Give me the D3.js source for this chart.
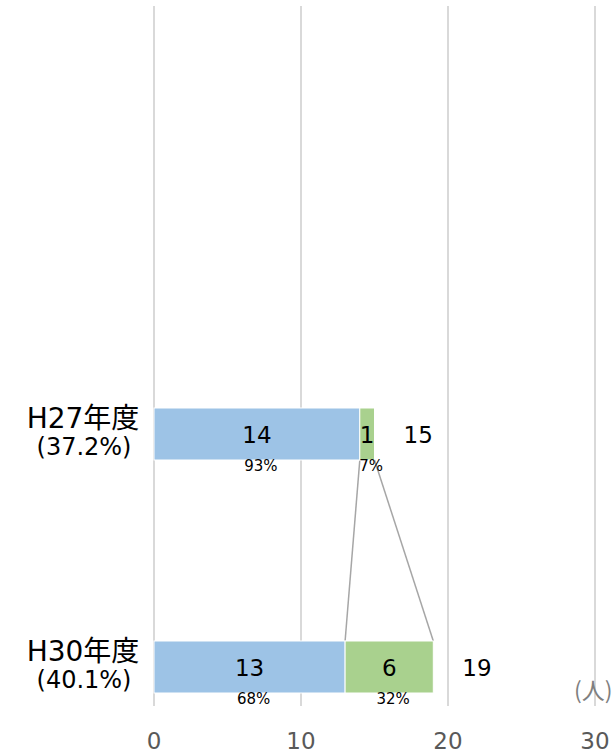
<!DOCTYPE html>
<html>
<head>
<meta charset="utf-8">
<script src="https://cdn.jsdelivr.net/npm/d3@7"></script>
<style>
body { margin: 0; background: #fff; }
</style>
</head>
<body>
<div id="chart"></div>
<script>
// Data
const categories = ['H27年度', 'H30年度'];
const subLabels = ['(37.2%)', '(40.1%)'];
const seriesA = [14, 13];
const seriesB = [1, 6];
const pctA = ['93%', '68%'];
const pctB = ['7%', '32%'];
const xTicks = [0, 10, 20, 30];

const W = 612, H = 753;
const svg = d3.select('#chart').append('svg')
    .attr('width', W).attr('height', H);

const x = d3.scaleLinear().domain([0, 30]).range([154, 595]);
const y = d3.scaleBand().domain(categories)
    .range([291.5, 809.5]).paddingInner(0.7768).paddingOuter(0.5);

const numFont = '"DejaVu Sans", Verdana, sans-serif';
const jpFont = '"DejaVu Sans", "Noto Sans CJK JP", sans-serif';

// Gridlines
svg.selectAll('.grid').data(xTicks).enter().append('line')
    .attr('x1', d => x(d)).attr('x2', d => x(d))
    .attr('y1', 6).attr('y2', 706)
    .attr('stroke', '#d9d9d9').attr('stroke-width', 2);

// Tick labels
svg.selectAll('.tick').data(xTicks).enter().append('text')
    .attr('x', d => x(d)).attr('y', 749)
    .attr('text-anchor', 'middle')
    .style('font-family', numFont).style('font-size', '23px')
    .attr('fill', '#595959')
    .text(d => d);

// Unit label
svg.append('text').attr('x', 574).attr('y', 699)
    .style('font-family', '"Noto Sans CJK JP", sans-serif').style('font-size', '23px')
    .attr('fill', '#7f7f7f').text('(人)');

const bh = y.bandwidth();

// Connector lines
const conn = [
    [seriesA[0], seriesA[1]],
    [seriesA[0] + seriesB[0], seriesA[1] + seriesB[1]]
];
svg.selectAll('.conn').data(conn).enter().append('line')
    .attr('x1', d => x(d[0])).attr('y1', y(categories[0]) + bh)
    .attr('x2', d => x(d[1])).attr('y2', y(categories[1]))
    .attr('stroke', '#a6a6a6').attr('stroke-width', 1.5);

// Bars
categories.forEach((c, i) => {
    const g = svg.append('g');
    const y0 = y(c);
    g.append('rect')
        .attr('x', x(0)).attr('y', y0)
        .attr('width', x(seriesA[i]) - x(0)).attr('height', bh)
        .attr('fill', '#9dc3e6').attr('stroke', '#fff').attr('stroke-width', 1);
    g.append('rect')
        .attr('x', x(seriesA[i])).attr('y', y0)
        .attr('width', x(seriesA[i] + seriesB[i]) - x(seriesA[i])).attr('height', bh)
        .attr('fill', '#a9d18e').attr('stroke', '#fff').attr('stroke-width', 1);

    const midA = (x(0) + x(seriesA[i])) / 2;
    const midB = (x(seriesA[i]) + x(seriesA[i] + seriesB[i])) / 2;
    g.append('text').attr('x', midA).attr('y', y0 + bh / 2 + 9)
        .attr('text-anchor', 'middle')
        .style('font-family', numFont).style('font-size', '23px')
        .attr('fill', '#000').text(seriesA[i]);
    g.append('text').attr('x', midB).attr('y', y0 + bh / 2 + 9)
        .attr('text-anchor', 'middle')
        .style('font-family', numFont).style('font-size', '23px')
        .attr('fill', '#000').text(seriesB[i]);
    g.append('text').attr('x', midA + 4).attr('y', y0 + bh + 11)
        .attr('text-anchor', 'middle')
        .style('font-family', numFont).style('font-size', '15px')
        .attr('fill', '#000').text(pctA[i]);
    g.append('text').attr('x', midB + 4).attr('y', y0 + bh + 11)
        .attr('text-anchor', 'middle')
        .style('font-family', numFont).style('font-size', '15px')
        .attr('fill', '#000').text(pctB[i]);
    // Total
    g.append('text').attr('x', x(seriesA[i] + seriesB[i]) + 29).attr('y', y0 + bh / 2 + 9)
        .style('font-family', numFont).style('font-size', '23px')
        .attr('fill', '#000').text(seriesA[i] + seriesB[i]);

    // Category labels
    g.append('text').attr('x', 83).attr('y', y0 + 20)
        .attr('text-anchor', 'middle')
        .style('font-family', jpFont).style('font-size', '28px')
        .attr('fill', '#000').text(c);
    g.append('text').attr('x', 84).attr('y', y0 + 47)
        .attr('text-anchor', 'middle')
        .style('font-family', numFont).style('font-size', '24px')
        .attr('fill', '#000').text(subLabels[i]);
});
</script>
</body>
</html>
